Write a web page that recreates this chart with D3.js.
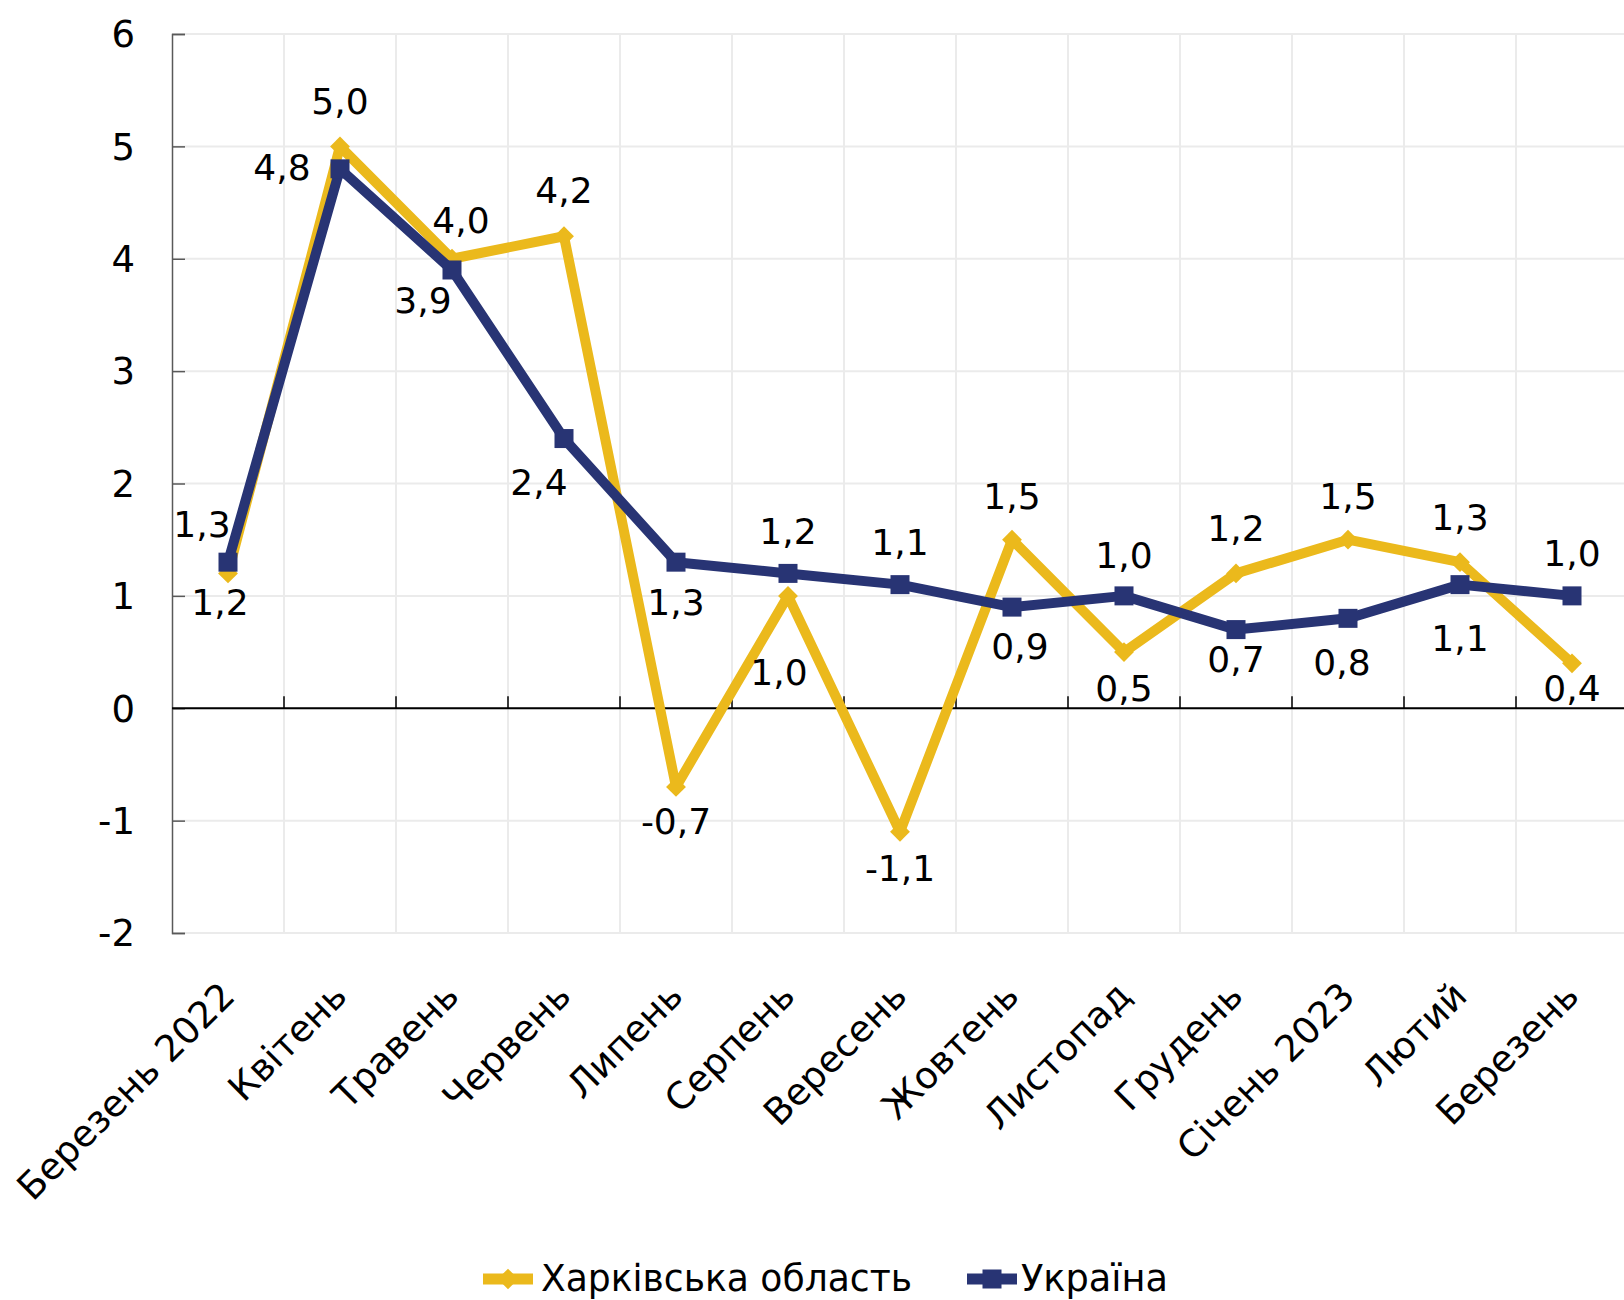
<!DOCTYPE html>
<html>
<head>
<meta charset="utf-8">
<script src="https://cdn.jsdelivr.net/npm/d3@7"></script>
<style>
  html, body { margin: 0; padding: 0; background: #fff; }
  svg { display: block; }
  text { font-family: "DejaVu Sans", Verdana, sans-serif; fill: #000; }
</style>
</head>
<body>
<svg id="chart" width="1624" height="1300"></svg>
<script>
// ---- data ----
const categories = ["Березень 2022", "Квітень", "Травень", "Червень", "Липень", "Серпень",
  "Вересень", "Жовтень", "Листопад", "Грудень", "Січень 2023", "Лютий", "Березень"];
const kharkiv = [1.2, 5.0, 4.0, 4.2, -0.7, 1.0, -1.1, 1.5, 0.5, 1.2, 1.5, 1.3, 0.4];
const ukraine = [1.3, 4.8, 3.9, 2.4, 1.3, 1.2, 1.1, 0.9, 1.0, 0.7, 0.8, 1.1, 1.0];
const yTicks = [-2, -1, 0, 1, 2, 3, 4, 5, 6];
const seriesNames = ["Харківська область", "Україна"];

// ---- label nudges (layout, as hand-placed in the original) ----
const kharkivLabelNudge = [[-8, 29], [0, -45], [9, -39], [0, -46], [0, 34], [-9, 76], [0, 36],
  [0, -44], [0, 36], [0, -45], [0, -44], [0, -45], [0, 25]];
const ukraineLabelNudge = [[-26, -38], [-58, -2], [-29, 30], [-25, 43], [0, 40], [0, -42], [0, -43],
  [8, 39], [0, -41], [0, 29], [-6, 44], [0, 53], [0, -43]];

const colYellow = "#EBB91C";
const colBlue = "#283474";
const fmt = v => d3.format(".1f")(v).replace(".", ",").replace("−", "-");

const svg = d3.select("#chart");
const plotLeft = 172, plotTop = 34, plotBottom = 933, plotRight = 1624;
const step = 112;

const x = d3.scaleBand().domain(categories).range([plotLeft, plotLeft + step * categories.length]).padding(0);
const cx = c => x(c) + x.bandwidth() / 2;
const y = d3.scaleLinear().domain([-2, 6]).range([plotBottom, plotTop]);

// gridlines
const grid = svg.append("g");
grid.selectAll("line.h").data(yTicks).join("line").attr("class", "h")
  .attr("x1", plotLeft).attr("x2", plotRight)
  .attr("y1", d => y(d)).attr("y2", d => y(d))
  .attr("stroke", "#EBEBEB").attr("stroke-width", 2);
grid.selectAll("line.v").data(categories.slice(1)).join("line").attr("class", "v")
  .attr("x1", d => x(d)).attr("x2", d => x(d))
  .attr("y1", plotTop).attr("y2", plotBottom)
  .attr("stroke", "#EBEBEB").attr("stroke-width", 2);

// y axis
const yAxis = d3.axisRight(y).tickValues(yTicks).tickSize(13).tickFormat("");
const yg = svg.append("g").attr("transform", `translate(${plotLeft},0)`).call(yAxis);
yg.select(".domain").attr("stroke", "#595959").attr("stroke-width", 1.5);
yg.selectAll(".tick line").attr("stroke", "#595959").attr("stroke-width", 1.5);
svg.append("g").selectAll("text").data(yTicks).join("text")
  .attr("x", 135).attr("y", d => y(d)).attr("dy", "0.36em")
  .attr("text-anchor", "end").attr("font-size", 37)
  .text(d => d);

// zero axis with ticks at category boundaries
const xg = svg.append("g").attr("transform", `translate(0,${y(0)})`);
xg.append("line").attr("x1", plotLeft).attr("x2", plotRight).attr("y1", 0).attr("y2", 0)
  .attr("stroke", "#000").attr("stroke-width", 2);
xg.selectAll("line.bt").data(categories.slice(1)).join("line")
  .attr("class", "bt")
  .attr("x1", d => x(d)).attr("x2", d => x(d)).attr("y1", 0).attr("y2", -12)
  .attr("stroke", "#000").attr("stroke-width", 1.5);

// category labels
svg.append("g").selectAll("text").data(categories).join("text")
  .attr("transform", d => `translate(${cx(d) + 9},998) rotate(-45)`)
  .attr("text-anchor", "end").attr("font-size", 37)
  .text(d => d);

// lines
const line = d3.line().x((d, i) => cx(categories[i])).y(d => y(d));
function drawSeries(values, color, shape) {
  const g = svg.append("g");
  g.append("path").datum(values).attr("d", line)
    .attr("fill", "none").attr("stroke", color).attr("stroke-width", 10)
    .attr("stroke-linejoin", "round");
  const sym = shape === "diamond"
    ? d3.symbol().type(d3.symbolSquare2).size(250)
    : d3.symbol().type(d3.symbolSquare2).size(460);
  g.selectAll("path.m").data(values).join("path").attr("class", "m")
    .attr("d", sym)
    .attr("transform", (d, i) => shape === "diamond"
      ? `translate(${cx(categories[i])},${y(d)}) rotate(45)`
      : `translate(${cx(categories[i])},${y(d)})`)
    .attr("fill", color);
  return g;
}
drawSeries(kharkiv, colYellow, "diamond");
drawSeries(ukraine, colBlue, "square");

// data labels
const labels = svg.append("g");
labels.selectAll("text.k").data(kharkiv).join("text").attr("class", "k")
  .attr("x", (d, i) => cx(categories[i]) + kharkivLabelNudge[i][0])
  .attr("y", (d, i) => y(d) + kharkivLabelNudge[i][1])
  .attr("dy", "0.36em").attr("text-anchor", "middle").attr("font-size", 36)
  .text(d => fmt(d));
labels.selectAll("text.u").data(ukraine).join("text").attr("class", "u")
  .attr("x", (d, i) => cx(categories[i]) + ukraineLabelNudge[i][0])
  .attr("y", (d, i) => y(d) + ukraineLabelNudge[i][1])
  .attr("dy", "0.36em").attr("text-anchor", "middle").attr("font-size", 36)
  .text(d => fmt(d));

// legend
const legend = svg.append("g");
const legItems = [
  { name: seriesNames[0], color: colYellow, shape: "diamond", x0: 483, tx: 541, tw: 371 },
  { name: seriesNames[1], color: colBlue, shape: "square", x0: 967, tx: 1021, tw: 147 }
];
const ly = 1279;
legItems.forEach(it => {
  legend.append("line").attr("x1", it.x0).attr("x2", it.x0 + 50).attr("y1", ly).attr("y2", ly)
    .attr("stroke", it.color).attr("stroke-width", 11);
  const sym = it.shape === "diamond"
    ? d3.symbol().type(d3.symbolSquare2).size(270)
    : d3.symbol().type(d3.symbolSquare2).size(460);
  legend.append("path").attr("d", sym)
    .attr("transform", `translate(${it.x0 + 25},${ly})` + (it.shape === "diamond" ? " rotate(45)" : ""))
    .attr("fill", it.color);
  legend.append("text").attr("x", it.tx).attr("y", 1291)
    .attr("font-size", 37)
    .attr("textLength", it.tw).attr("lengthAdjust", "spacingAndGlyphs")
    .text(it.name);
});
</script>
</body>
</html>
